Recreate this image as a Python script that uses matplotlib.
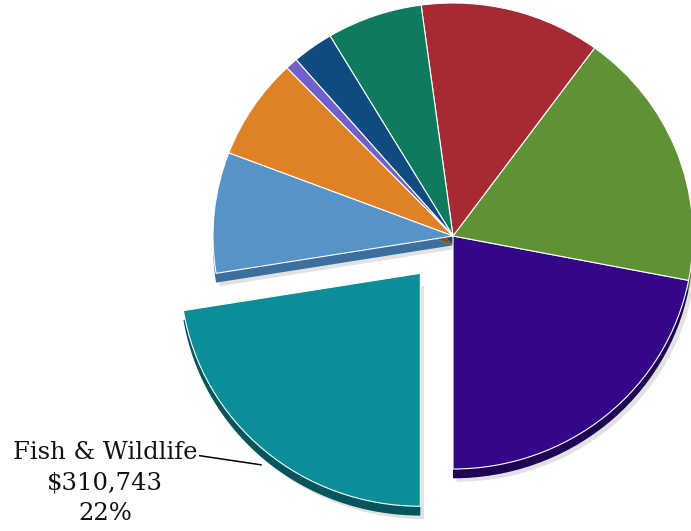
import numpy as np
import matplotlib
matplotlib.use("Agg")
import matplotlib.pyplot as plt
from matplotlib.colors import to_rgb

# Budget by program, counter-clockwise from 6 o'clock
programs = ["Program A", "Program B", "Program C", "Program D", "Program E",
            "Program F", "Program G", "Program H", "Fish & Wildlife"]
amounts = [304000, 249300, 168500, 89200, 38500, 11500, 97300, 115800, 310743]

colors = ["#34078A", "#5E9234", "#A62A33", "#0F7B5E", "#0E4B80",
          "#7160C8", "#DF8226", "#5593C9", "#0C8E99"]
explode = [0, 0, 0, 0, 0, 0, 0, 0, 0.21]

total = sum(amounts)
highlight = programs.index("Fish & Wildlife")

fig = plt.figure(figsize=(6.91, 5.31), dpi=100)
ax = fig.add_axes([0, 0, 1, 1])

depth = 0.04
side_colors = [tuple(c * 0.6 for c in to_rgb(col)) for col in colors]
side_colors[7] = "#3D6F9E"

# soft drop shadow
ax.pie(amounts, explode=explode, startangle=-90, counterclock=True,
       center=(0.015, -depth - 0.015), colors=["#a0a0a0"] * len(amounts),
       wedgeprops=dict(linewidth=0, alpha=0.3), frame=False)
# extruded sides
ax.pie(amounts, explode=explode, startangle=-90, counterclock=True,
       center=(0, -depth), colors=side_colors,
       wedgeprops=dict(linewidth=0), frame=False)
# top faces
wedges, _ = ax.pie(amounts, explode=explode, startangle=-90, counterclock=True,
                   colors=colors,
                   wedgeprops=dict(edgecolor="white", linewidth=0.8),
                   frame=False)

# callout for the highlighted slice
pct = amounts[highlight] / total * 100
label = f"{programs[highlight]}\n${amounts[highlight]:,}\n{pct:.0f}%"
ax.text(-1.45, -1.06, label, ha="center", va="center", fontsize=17.5,
        family="DejaVu Serif", linespacing=1.4, color="#111111")
ax.plot([-1.055, -0.80], [-0.943, -0.982], color="black", lw=1.1)

ax.set_aspect("auto")
ax.set_xlim(-453 / 240, (691 - 453) / 240)
ax.set_ylim((236 - 531) / 233, 236 / 233)
ax.axis("off")

fig.savefig("out.png", dpi=100)
